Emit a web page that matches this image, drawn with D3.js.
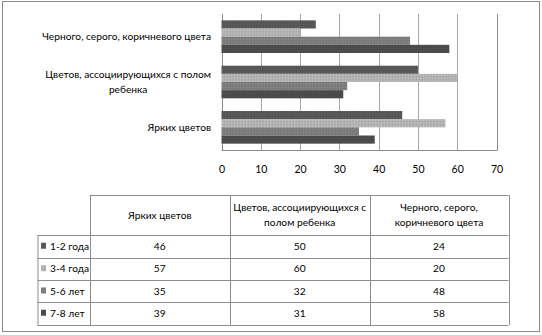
<!DOCTYPE html>
<html>
<head>
<meta charset="utf-8">
<script src="https://cdn.jsdelivr.net/npm/d3@7"></script>
<style>
  html, body { margin: 0; padding: 0; background: #fff; }
  svg { display: block; font-family: Lato, "Open Sans", sans-serif; }
</style>
</head>
<body>
<svg id="chart" width="542" height="335"></svg>
<script>
// Categories (data-table column order; the bar axis shows them bottom-to-top)
const categories = [
  "Ярких цветов",
  "Цветов, ассоциирующихся с полом ребенка",
  "Черного, серого, коричневого цвета"
];
// Age groups (series)
const seriesNames = ["1-2 года", "3-4 года", "5-6 лет", "7-8 лет"];
// Values per series, in category order
const age12 = [46, 50, 24];
const age34 = [57, 60, 20];
const age56 = [35, 32, 48];
const age78 = [39, 31, 58];
const seriesValues = [age12, age34, age56, age78];
const seriesColors = ["#575757", "#b2b2b2", "#7d7d7d", "#4b4b4b"];
const xTicks = [0, 10, 20, 30, 40, 50, 60, 70];

// Line breaks used for the wrapped labels
const axisLabelLines = {
  "Ярких цветов": ["Ярких цветов"],
  "Цветов, ассоциирующихся с полом ребенка": ["Цветов, ассоциирующихся с полом", "ребенка"],
  "Черного, серого, коричневого цвета": ["Черного, серого, коричневого цвета"]
};
const headerLines = {
  "Ярких цветов": ["Ярких цветов"],
  "Цветов, ассоциирующихся с полом ребенка": ["Цветов, ассоциирующихся с", "полом ребенка"],
  "Черного, серого, коричневого цвета": ["Черного, серого,", "коричневого цвета"]
};

const FS = 10.2;
const svg = d3.select("#chart");

// Outer frame
svg.append("rect")
  .attr("x", 2.5).attr("y", 1.5).attr("width", 537).attr("height", 330)
  .attr("fill", "#fff").attr("stroke", "#8a8a8a").attr("stroke-width", 1);

// Scales
const x = d3.scaleLinear().domain([0, 70]).range([221.5, 496.5]);
const yCat = d3.scaleBand()
  .domain(categories.slice().reverse())
  .range([14, 150])
  .paddingInner(0.28).paddingOuter(0.14);
const ySer = d3.scaleBand().domain(seriesNames).range([0, yCat.bandwidth()]);

// Gridlines
const grid = svg.append("g");
grid.selectAll("line").data(xTicks).join("line")
  .attr("x1", d => Math.round(x(d)) + 0.5).attr("x2", d => Math.round(x(d)) + 0.5)
  .attr("y1", 14).attr("y2", 150)
  .attr("stroke", d => (d === 0 || d === 70) ? "#8a8a8a" : "#a8a8a8")
  .attr("stroke-width", 1);

// Dotted texture for bars
const defs = svg.append("defs");
seriesColors.forEach((c, i) => {
  const p = defs.append("pattern").attr("id", "tex" + i)
    .attr("patternUnits", "userSpaceOnUse").attr("width", 3).attr("height", 3);
  p.append("rect").attr("width", 3).attr("height", 3).attr("fill", c);
  p.append("rect").attr("x", 0).attr("y", 0).attr("width", 1).attr("height", 1)
    .attr("fill", d3.color(c).brighter(0.25));
  p.append("rect").attr("x", 2).attr("y", 1).attr("width", 1).attr("height", 1)
    .attr("fill", d3.color(c).darker(0.2));
});

// Bars
const bars = svg.append("g");
seriesNames.forEach((s, si) => {
  bars.selectAll(null)
    .data(categories.map((c, ci) => ({ cat: c, v: seriesValues[si][ci] })))
    .join("rect")
    .attr("x", x(0))
    .attr("y", d => yCat(d.cat) + ySer(s))
    .attr("width", d => x(d.v) - x(0))
    .attr("height", ySer.bandwidth())
    .attr("fill", "url(#tex" + si + ")");
});

// Baseline along the bottom of the plot
svg.append("line")
  .attr("x1", x(0)).attr("x2", x(70) + 1).attr("y1", 150.5).attr("y2", 150.5)
  .attr("stroke", "#8a8a8a");

// Value axis labels
const xAxis = d3.axisBottom(x).tickValues(xTicks).tickSize(0).tickPadding(0);
const gx = svg.append("g").attr("transform", "translate(0,166)").call(xAxis);
gx.select(".domain").remove();
gx.selectAll("text").attr("font-size", 10.5).attr("fill", "#000")
  .attr("font-family", "Lato, sans-serif").attr("dy", "0.71em");

// Category labels
const catG = svg.append("g").attr("font-size", FS).attr("fill", "#000");
categories.forEach(c => {
  const lines = axisLabelLines[c];
  const cy = yCat(c) + yCat.bandwidth() / 2;
  const lh = 15;
  const g = catG.append("g");
  const texts = lines.map((l, i) => g.append("text")
    .attr("y", cy + (i - (lines.length - 1) / 2) * lh)
    .attr("dy", "0.35em").text(l));
  const w = d3.max(texts, t => t.node().getComputedTextLength());
  const right = 211;
  texts.forEach(t => t.attr("x", right - w / 2).attr("text-anchor", "middle"));
});

// Data table
const colX = [89.5, 230, 369.5, 508.5];
const rowY = [195, 235, 257.5, 280, 302, 324.5];
const rowHeadX = 37.5;
const tbl = svg.append("g").attr("font-size", FS).attr("fill", "#000");
const lineColor = "#8e8e8e";

// Horizontal rules
rowY.forEach((yy, i) => {
  tbl.append("line")
    .attr("x1", i === 0 ? colX[0] : rowHeadX).attr("x2", colX[3])
    .attr("y1", Math.round(yy) + 0.5).attr("y2", Math.round(yy) + 0.5)
    .attr("stroke", lineColor);
});
// Vertical rules
colX.forEach(xx => {
  tbl.append("line")
    .attr("x1", Math.round(xx) + 0.5).attr("x2", Math.round(xx) + 0.5)
    .attr("y1", rowY[0]).attr("y2", rowY[5] + 0.5)
    .attr("stroke", lineColor);
});
tbl.append("line")
  .attr("x1", rowHeadX + 0.5).attr("x2", rowHeadX + 0.5)
  .attr("y1", rowY[1]).attr("y2", rowY[5] + 0.5)
  .attr("stroke", lineColor);

// Header cells
categories.forEach((c, ci) => {
  const cx = (colX[ci] + colX[ci + 1]) / 2;
  const cy = (rowY[0] + rowY[1]) / 2;
  const lines = headerLines[c];
  lines.forEach((l, i) => {
    tbl.append("text").attr("x", cx)
      .attr("y", cy + (i - (lines.length - 1) / 2) * 15.5)
      .attr("dy", "0.35em").attr("text-anchor", "middle").text(l);
  });
});

// Series rows: legend key, name and values
seriesNames.forEach((s, si) => {
  const cy = (rowY[si + 1] + rowY[si + 2]) / 2;
  tbl.append("rect")
    .attr("x", 41).attr("y", cy - 3.5).attr("width", 5).attr("height", 6)
    .attr("fill", seriesColors[si]);
  tbl.append("text").attr("x", 50).attr("y", cy).attr("dy", "0.35em").text(s);
  categories.forEach((c, ci) => {
    tbl.append("text")
      .attr("x", (colX[ci] + colX[ci + 1]) / 2)
      .attr("y", cy).attr("dy", "0.35em").attr("text-anchor", "middle")
      .text(seriesValues[si][ci]);
  });
});
</script>
</body>
</html>
